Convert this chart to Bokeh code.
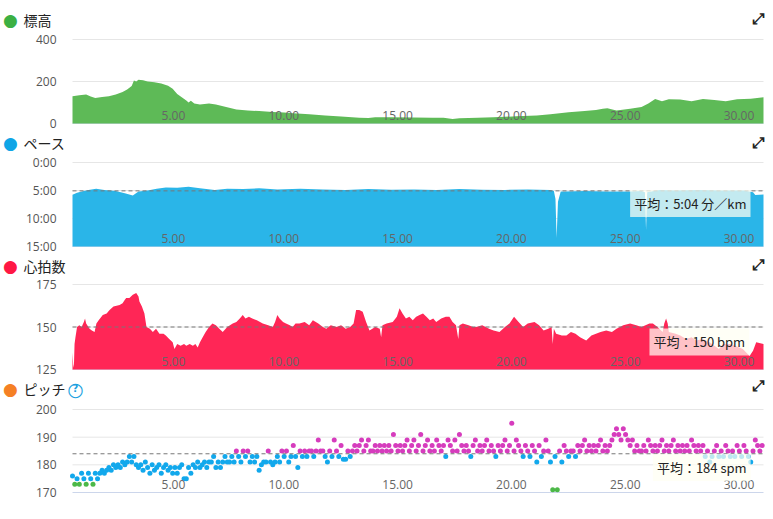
from bokeh.plotting import figure
from bokeh.layouts import column
from bokeh.models import Range1d, Label, ColumnDataSource
from bokeh.embed import file_html
from bokeh.resources import INLINE
from bokeh.core.properties import value

# ---------------- data ----------------
X_MAX = 30.36
xtick_vals = [5, 10, 15, 20, 25, 30]
xtick_labels = ["5.00", "10.00", "15.00", "20.00", "25.00", "30.00"]

elev_km = [0.0, 0.3, 0.6, 0.8, 1.0, 1.3, 1.6, 1.9, 2.2, 2.4, 2.6, 2.7, 2.8, 2.9, 3.1, 3.3, 3.6, 3.9,
           4.2, 4.4, 4.6, 4.8, 5.0, 5.1, 5.2, 5.35, 5.6, 6.0, 6.3, 6.75, 7.2, 7.7, 8.2, 8.8, 9.3, 9.7,
           10.4, 11.1, 11.8, 12.6, 13.0, 13.3, 14.0, 15.0, 15.8, 16.3, 16.7, 17.0, 17.8, 18.5, 19.5,
           20.4, 21.0, 21.8, 22.5, 23.0, 23.3, 23.5, 23.9, 24.5, 25.0, 25.3, 25.6, 25.9, 26.2, 26.7,
           27.2, 27.7, 28.2, 28.7, 29.2, 29.8, 30.36]
elev_m = [130, 135, 138, 128, 122, 126, 130, 138, 150, 162, 178, 205, 200, 208, 206, 200, 196, 190,
          180, 165, 140, 125, 110, 100, 108, 95, 90, 95, 90, 78, 67, 62, 59, 55, 52, 49,
          44, 38, 33, 27, 26, 30, 30, 29, 27, 27, 22, 25, 27, 30, 34,
          38, 44, 54, 60, 64, 70, 73, 62, 70, 78, 95, 117, 106, 116, 114,
          106, 117, 112, 106, 116, 118, 125]
elev_ticks = [0, 200, 400]
elev_tick_labels = ["0", "200", "400"]

pace_km = [0.0, 0.2, 0.45, 0.7, 1.04, 1.4, 1.9, 2.3, 2.65, 2.9, 3.3, 3.7, 4.1, 4.6, 5.1, 5.6, 6.25,
           6.8, 7.5, 8.2, 9.0, 10.0, 11.0, 12.0, 13.0, 14.0, 15.0, 16.0, 17.0, 18.0, 19.0, 20.0,
           21.0, 21.15, 21.22, 21.27, 21.33, 21.45, 21.6, 22.5, 23.5, 24.5, 25.0, 25.15, 25.2,
           25.25, 25.8, 26.5, 27.5, 28.5, 29.5, 29.9, 30.0, 30.36]
pace_min = [5.77, 5.4, 5.12, 4.9, 4.7, 4.9, 5.1, 5.5, 5.9, 5.2, 5.0, 4.7, 4.46, 4.5, 4.35, 4.6, 4.9,
            4.7, 4.75, 4.6, 4.8, 4.7, 4.8, 4.9, 4.75, 4.85, 4.8, 4.9, 4.75, 4.85, 4.9, 4.8,
            4.9, 5.1, 6.5, 13.5, 7.0, 5.2, 5.2, 5.1, 5.2, 5.2, 5.1, 5.3, 12.0,
            5.3, 4.9, 5.0, 4.9, 5.0, 5.0, 5.3, 5.8, 5.7]
pace_avg = 5 + 4 / 60
pace_ticks = [0, 5, 10, 15]
pace_tick_labels = ["0:00", "5:00", "10:00", "15:00"]

hr_km = [0.0, 0.03, 0.06, 0.09, 0.13, 0.2, 0.3, 0.4, 0.5, 0.55, 0.6, 0.75, 0.85, 0.97, 1.05, 1.15,
         1.33, 1.5, 1.63, 1.8, 2.07, 2.2, 2.3, 2.36, 2.5, 2.65, 2.8, 2.9, 2.94, 3.05, 3.16, 3.25,
         3.4, 3.53, 3.67, 3.82, 4.0, 4.1, 4.25, 4.4, 4.48, 4.6, 4.75, 4.9, 5.0, 5.15, 5.29, 5.4,
         5.5, 5.6, 5.72, 5.85, 6.0, 6.15, 6.3, 6.45, 6.6, 6.8, 7.04, 7.2, 7.35, 7.48, 7.6, 7.75,
         7.9, 8.1, 8.36, 8.6, 8.8, 8.9, 9.0, 9.1, 9.25, 9.38, 9.55, 9.67, 9.8, 9.97, 10.2, 10.4,
         10.56, 10.8, 11.0, 11.15, 11.35, 11.6, 11.8, 12.0, 12.2, 12.35, 12.46, 12.6, 12.75, 12.9,
         13.05, 13.3, 13.5, 13.56, 13.62, 13.8, 14.07, 14.25, 14.37, 14.5, 14.65, 14.8, 14.95,
         15.1, 15.25, 15.4, 15.55, 15.7, 15.85, 15.98, 16.2, 16.4, 16.56, 16.7, 16.85, 16.95,
         17.0, 17.15, 17.4, 17.6, 17.74, 18.0, 18.3, 18.5, 18.76, 19.0, 19.2, 19.4, 19.6, 19.8,
         20.0, 20.3, 20.5, 20.7, 20.9, 21.05, 21.1, 21.15, 21.25, 21.5, 21.7, 21.9, 22.1, 22.3,
         22.57, 22.8, 23.0, 23.2, 23.45, 23.7, 23.9, 24.2, 24.5, 24.77, 25.0, 25.35, 25.5, 25.7,
         25.93, 26.0, 26.08, 26.15, 26.2, 26.5, 26.7, 26.96, 27.2, 27.4, 27.7, 27.99, 28.2, 28.4,
         28.6, 28.88, 29.1, 29.3, 29.45, 29.6, 29.75, 29.9, 30.04, 30.36]
hr_bpm = [135, 128, 126, 140, 144, 150, 151, 150, 153, 155, 152, 149, 148, 147, 152, 154,
          157, 158, 160, 162, 163, 164, 166, 167, 167, 169, 170, 168, 165, 162, 158, 150,
          149, 147, 149, 146, 146, 145, 143, 141, 137, 140, 139, 140, 139, 140, 139, 140,
          138, 141, 144, 147, 150, 152, 151, 149, 147, 150, 152, 153, 155, 157, 155, 156,
          155, 154, 152, 151, 150, 153, 157, 155, 153, 152, 151, 150, 152, 152, 153, 151,
          154, 152, 150, 149, 151, 150, 151, 149, 150, 152, 160, 160, 159, 153,
          148, 150, 149, 144, 151, 152, 153, 156, 161, 158, 155, 156, 154,
          156, 157, 158, 156, 154, 155, 153, 155, 156, 156, 153, 151, 143,
          151, 152, 151, 150, 150, 151, 149, 148, 147, 150, 152, 156, 153, 150,
          152, 153, 151, 148, 149, 150, 140, 149, 146, 145, 145, 147, 146, 144,
          142, 145, 146, 147, 148, 147, 149, 151, 152, 151, 150, 152, 152, 150,
          147, 152, 155, 152, 147, 146, 145, 143, 144, 142, 143, 141, 139, 137,
          140, 140, 139, 138, 137, 135, 133, 136, 141, 140]
hr_avg = 150
hr_ticks = [125, 150, 175]
hr_tick_labels = ["125", "150", "175"]

PITCH_STEP_KM = 0.1
pitch_spm = [
    176, 173, 175, 173, 177, 175, 173, 177, 175, 173,
    177, 175, 177, 178, 177, 178, 179, 178, 180, 179,
    180, 179, 181, 180, 181, 183, 181, 183, 180, 179,
    180, 178, 181, 179, 177, 180, 178, 179, 180, 177,
    179, 180, 178, 179, 177, 179, 177, 179, 180, 175,
    175, 179, 177, 180, 179, 181, 179, 180, 181, 179,
    181, 181, 183, 179, 181, 179, 181, 183, 181, 181,
    183, 181, 185, 183, 181, 185, 183, 185, 181, 183,
    181, 183, 178, 180, 181, 181, 185, 181, 180, 181,
    183, 181, 185, 183, 185, 181, 183, 187, 183, 179,
    185, 183, 185, 183, 185, 185, 183, 185, 189, 185,
    185, 183, 181, 185, 183, 189, 185, 183, 187, 182,
    182, 185, 183, 185, 187, 185, 187, 189, 185, 187,
    189, 185, 185, 187, 185, 187, 185, 187, 185, 187,
    185, 191, 187, 185, 187, 185, 187, 189, 185, 187,
    189, 185, 187, 191, 185, 187, 189, 185, 187, 185,
    189, 187, 185, 187, 183, 189, 187, 185, 189, 185,
    191, 187, 185, 187, 185, 183, 187, 189, 185, 187,
    185, 187, 189, 185, 187, 185, 183, 187, 185, 187,
    189, 185, 187, 195, 185, 189, 187, 185, 183, 187,
    185, 183, 187, 185, 181, 187, 183, 185, 189, 185,
    181, 171, 183, 171, 185, 181, 187, 185, 183, 185,
    185, 183, 187, 185, 187, 189, 185, 187, 185, 187,
    185, 187, 189, 185, 187, 185, 187, 189, 191, 193,
    191, 189, 193, 191, 189, 187, 189, 185, 187, 185,
    185, 187, 185, 189, 187, 185, 187, 185, 187, 189,
    185, 187, 185, 187, 189, 185, 187, 185, 187, 185,
    187, 185, 189, 187, 185, 187, 185, 187, 183, 185,
    181, 183, 185, 187, 183, 185, 183, 187, 185, 183,
    185, 183, 187, 185, 183, 187, 185, 183, 181, 185,
    189, 187, 185, 187,
]
pitch_avg = 184
pitch_ticks = [170, 180, 190, 200]
pitch_tick_labels = ["170", "180", "190", "200"]

titles = ["標高", "ペース", "心拍数", "ピッチ"]
avg_texts = ["平均：5:04 分／km", "平均：150 bpm", "平均：184 spm"]

# ---------------- style / layout ----------------
CJK = "Noto Sans CJK JP"
LATIN = "Open Sans"
GRID = "#e6e6e6"
AXIS_LINE = "#ccd6eb"
W = 773
PLOT_LEFT, PLOT_RIGHT = 72, 763
KM_PER_PX = X_MAX / (PLOT_RIGHT - PLOT_LEFT)


def panel(h, px_top, v_top, px_bot, v_bot):
    per = (v_top - v_bot) / (px_bot - px_top)
    y_hi = v_top + px_top * per
    y_lo = v_bot - (h - px_bot) * per
    p = figure(width=W, height=h,
               x_range=Range1d(-PLOT_LEFT * KM_PER_PX, X_MAX + (W - PLOT_RIGHT) * KM_PER_PX),
               y_range=Range1d(y_lo, y_hi), output_backend="svg", toolbar_location=None,
               x_axis_location=None, y_axis_location=None, min_border=0)
    p.outline_line_color = None
    p.grid.visible = False
    return p


def grid(p, ticks, tick_labels, bottom_val):
    for t in ticks:
        p.segment(x0=0, x1=X_MAX, y0=t, y1=t,
                  line_color=AXIS_LINE if t == bottom_val else GRID, line_width=1)
    src = ColumnDataSource(dict(x=[0] * len(ticks), y=ticks, t=tick_labels))
    p.text(x="x", y="y", text="t", source=src, text_align="right", text_baseline="middle",
           x_offset=-16, text_font=value(LATIN), text_font_size="12px", text_color="#555555")


def decorate(p, h, title, dot_color, title_y, icon_y, bottom_val):
    src = ColumnDataSource(dict(x=xtick_vals, y=[bottom_val] * len(xtick_vals), t=xtick_labels))
    p.text(x="x", y="y", text="t", source=src, text_align="right", text_baseline="middle",
           x_offset=-1, y_offset=-8, text_font=value(LATIN), text_font_size="12px",
           text_color="#666666")
    p.add_layout(Label(x=10, y=h - title_y, x_units="screen", y_units="screen", text="●",
                       text_font="DejaVu Sans", text_font_size="17px", text_color=dot_color,
                       text_align="center", text_baseline="middle"))
    p.add_layout(Label(x=23, y=h - title_y, x_units="screen", y_units="screen", text=title,
                       text_font=CJK, text_font_size="14px", text_color="#222222",
                       text_align="left", text_baseline="middle"))
    p.add_layout(Label(x=757, y=h - icon_y, x_units="screen", y_units="screen",
                       text="⤢", text_font="DejaVu Sans", text_font_size="15px",
                       text_font_style="bold", text_color="#222222",
                       text_align="center", text_baseline="middle"))


def avg_line(p, val):
    p.segment(x0=0, x1=X_MAX, y0=val, y1=val, line_color="#777777", line_width=1,
              line_dash="4 3")


def avg_label(p, x, y, text):
    p.add_layout(Label(x=x, y=y, text=text, text_font=CJK, text_font_size="13px",
                       text_color="#222222", text_align="left", text_baseline="middle",
                       background_fill_color="#fffff2", background_fill_alpha=0.72,
                       padding=4))


# elevation: page rows 0-132
p1 = panel(132, 39, 400, 123, 0)
grid(p1, elev_ticks, elev_tick_labels, 0)
p1.varea(x=elev_km, y1=[0] * len(elev_km), y2=elev_m, fill_color="#5eba57")
decorate(p1, 132, titles[0], "#3cb043", 19, 18, 0)

# pace: page rows 132-255
p2 = panel(123, 30, 0, 114, 15)
grid(p2, pace_ticks, pace_tick_labels, 15)
p2.varea(x=pace_km, y1=[15] * len(pace_km), y2=pace_min, fill_color="#2ab5e8")
avg_line(p2, pace_avg)
avg_label(p2, 24.5, 7.3, avg_texts[0])
decorate(p2, 123, titles[1], "#0fa5e6", 10, 10, 15)

# heart rate: page rows 255-378
p3 = panel(123, 29, 175, 114, 125)
grid(p3, hr_ticks, hr_tick_labels, 125)
p3.varea(x=hr_km, y1=[125] * len(hr_km), y2=hr_bpm, fill_color="#ff2656")
avg_line(p3, hr_avg)
avg_label(p3, 25.35, 141.2, avg_texts[1])
decorate(p3, 123, titles[2], "#ff1744", 10, 9, 125)

# pitch: page rows 378-519
p4 = panel(141, 31, 200, 114, 170)
grid(p4, pitch_ticks, pitch_tick_labels, 170)
pitch_km = [i * PITCH_STEP_KM for i in range(len(pitch_spm))]
pitch_col = ["#4cb848" if v <= 173 else ("#12a8ec" if v <= 184 else "#d63cbd") for v in pitch_spm]
p4.scatter(x=pitch_km, y=pitch_spm, size=5, fill_color=pitch_col, line_color=None)
avg_line(p4, pitch_avg)
avg_label(p4, 25.5, 179.0, avg_texts[2])
decorate(p4, 141, titles[3], "#f58025", 10, 7, 170)
p4.add_layout(Label(x=75, y=141 - 10, x_units="screen", y_units="screen", text="○",
                    text_font="DejaVu Sans", text_font_size="19px", text_color="#1a9fe0",
                    text_align="center", text_baseline="middle"))
p4.add_layout(Label(x=75, y=141 - 10, x_units="screen", y_units="screen", text="?",
                    text_font="DejaVu Sans", text_font_size="10px", text_font_style="bold",
                    text_color="#1a9fe0", text_align="center", text_baseline="middle"))

layout = column(p1, p2, p3, p4, spacing=0)
open("out.html", "w").write(file_html(layout, INLINE))
